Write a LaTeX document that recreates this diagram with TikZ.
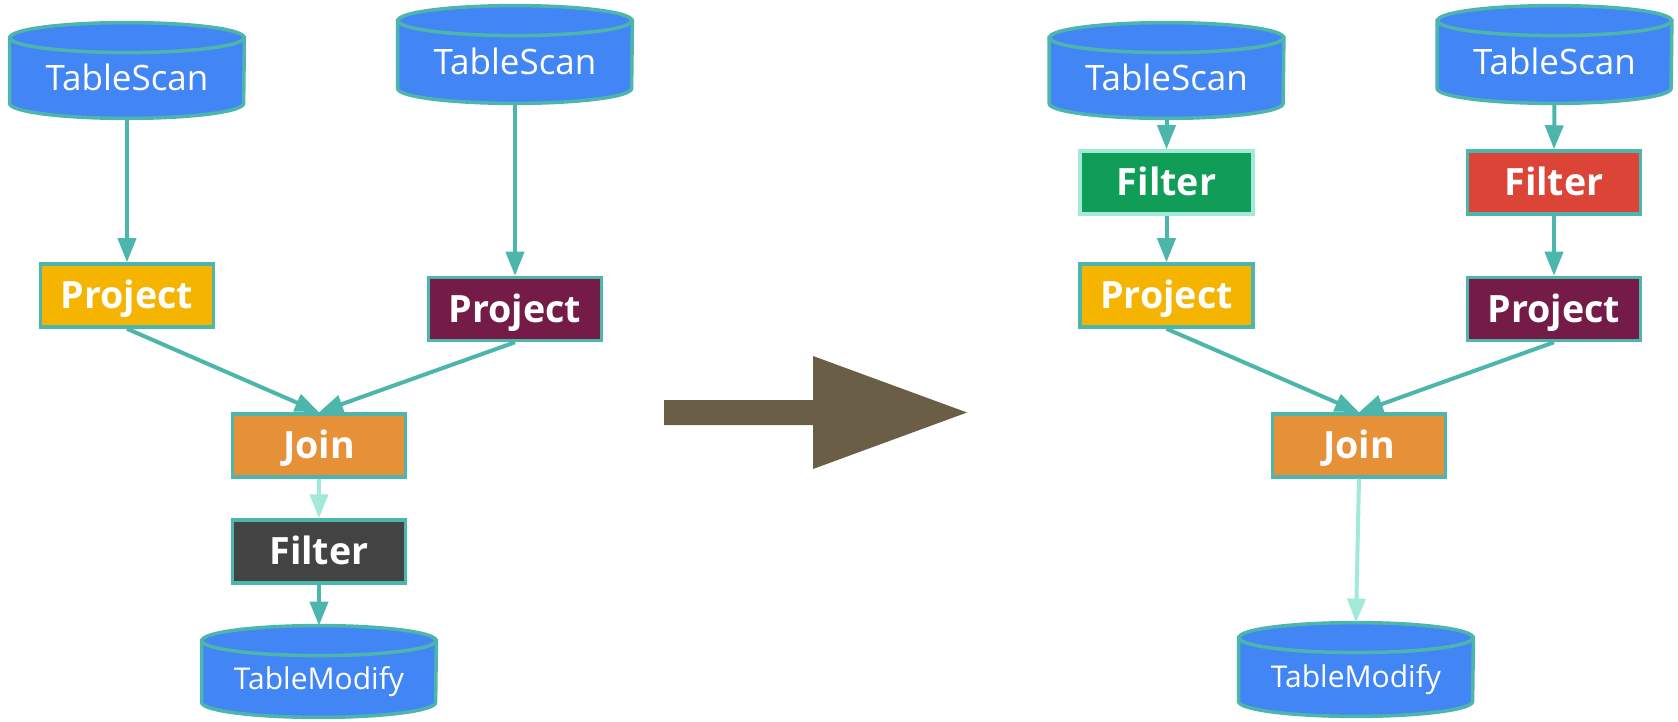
\documentclass[tikz,border=0pt]{standalone}
\usepackage{fontspec}
\setmainfont{Open Sans}
\usetikzlibrary{arrows.meta,calc}
\definecolor{tsblue}{HTML}{4285F4}
\definecolor{tealb}{HTML}{4DB6AC}
\definecolor{mint}{HTML}{A2E9D9}
\definecolor{pyellow}{HTML}{F4B400}
\definecolor{pmaroon}{HTML}{741B47}
\definecolor{jorange}{HTML}{E69138}
\definecolor{fdark}{HTML}{434343}
\definecolor{fgreen}{HTML}{0F9D58}
\definecolor{fred}{HTML}{DB4437}
\definecolor{bigarrow}{HTML}{6B5E46}
\tikzset{
  cyltext/.style={inner sep=0pt, minimum width=117pt, text=white, font=\fontsize{17.5}{20}\selectfont, text height=12.5pt, text depth=0pt},
  cylbody/.style={fill=tsblue, draw=tealb, line width=1.75pt},
  opbox/.style={draw=tealb, line width=1.75pt, minimum width=86.5pt, minimum height=31.5pt, inner sep=0pt, text=white, font=\bfseries\fontsize{18.8}{22}\selectfont, text height=13.4pt, text depth=0pt},
  edge/.style={draw=tealb, line width=2pt, -{Triangle[length=12pt,width=9pt]}},
  lightedge/.style={draw=mint, line width=2pt, -{Triangle[length=12pt,width=9pt]}},
}
\newcommand{\drawcylinder}[3]{%
  \filldraw[cylbody] (#1.north west) -- ([yshift=#3]#1.south west)
     arc[start angle=180, end angle=360, x radius=#2, y radius=#3] -- (#1.north east) -- cycle;
  \filldraw[cylbody] (#1.north) ellipse[x radius=#2, y radius=#3];
}
\begin{document}
\begin{tikzpicture}[x=0.5pt, y=-0.5pt]
\useasboundingbox (0,0) rectangle (1678,722);
% ---------- left ----------
\node[cyltext, minimum height=40pt] (ts1) at (127,78) {};
\node[cyltext, minimum height=41pt] (ts2) at (515,62) {};
\node[cyltext, minimum height=38pt] (tm) at (319,679) {};
\drawcylinder{ts1}{58.5pt}{7.5pt}
\drawcylinder{ts2}{58.5pt}{7.5pt}
\drawcylinder{tm}{58.5pt}{7.5pt}
\node[cyltext] at (ts1) {TableScan};
\node[cyltext] at (ts2) {TableScan};
\node[cyltext, font=\fontsize{15}{18}\selectfont, text height=10.7pt] at (tm) {TableModify};
\node[opbox, fill=pyellow] (p1) at (127,295.5) {Project};
\node[opbox, fill=pmaroon] (p2) at (515,309) {Project};
\node[opbox, fill=jorange] (join) at (319,445.5) {Join};
\node[opbox, fill=fdark] (filt) at (319,551.5) {Filter};
\coordinate (tmtop) at ([yshift=7.5pt]tm.north);
\draw[edge] (ts1.south) -- (p1.north);
\draw[edge] (ts2.south) -- (p2.north);
\draw[edge] (p1.south) -- (join.north);
\draw[edge] (p2.south) -- (join.north);
\draw[lightedge] (join.south) -- (filt.north);
\draw[edge] (filt.south) -- (tmtop);
% ---------- middle arrow ----------
\fill[bigarrow] (664,400) -- (813,400) -- (813,356) -- (967,412.5) -- (813,469) -- (813,425) -- (664,425) -- cycle;
% ---------- right ----------
\node[cyltext, minimum height=40pt] (ts3) at (1166.5,78) {};
\node[cyltext, minimum height=41pt] (ts4) at (1554.5,62) {};
\node[cyltext, minimum height=39pt] (tm2) at (1356,677) {};
\drawcylinder{ts3}{58.5pt}{7.5pt}
\drawcylinder{ts4}{58.5pt}{7.5pt}
\drawcylinder{tm2}{58.5pt}{7.5pt}
\node[cyltext] at (ts3) {TableScan};
\node[cyltext] at (ts4) {TableScan};
\node[cyltext, font=\fontsize{15}{18}\selectfont, text height=10.7pt] at (tm2) {TableModify};
\node[opbox, fill=fgreen, draw=mint] (fg) at (1166.5,182.5) {Filter};
\node[opbox, fill=fred] (fr) at (1554,182.5) {Filter};
\node[opbox, fill=pyellow] (p3) at (1166.5,295.5) {Project};
\node[opbox, fill=pmaroon] (p4) at (1554,309) {Project};
\node[opbox, fill=jorange] (join2) at (1359,445.5) {Join};
\coordinate (tm2top) at ([yshift=7.5pt]tm2.north);
\draw[edge] (ts3.south) -- (fg.north);
\draw[edge] (ts4.south) -- (fr.north);
\draw[edge] (fg.south) -- (p3.north);
\draw[edge] (fr.south) -- (p4.north);
\draw[edge] (p3.south) -- (join2.north);
\draw[edge] (p4.south) -- (join2.north);
\draw[lightedge] (join2.south) -- (tm2top);
\end{tikzpicture}
\end{document}
